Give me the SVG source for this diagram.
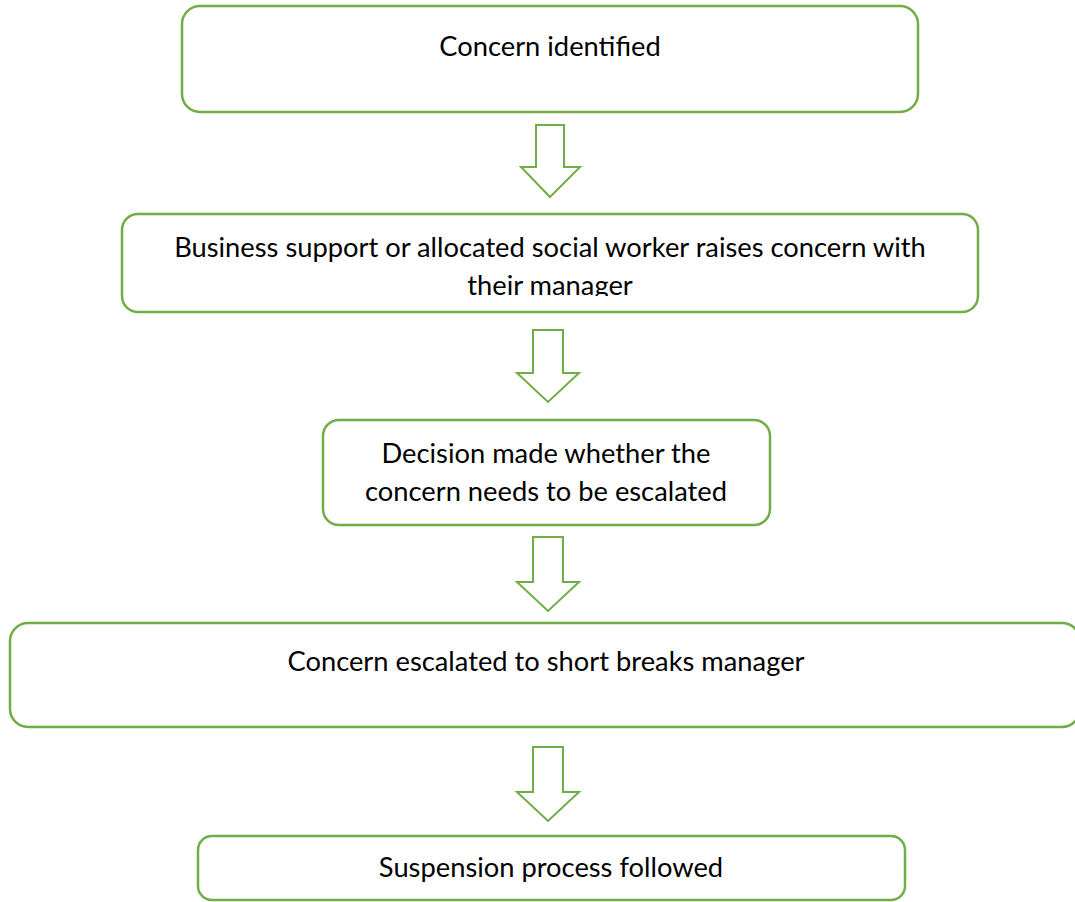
<svg xmlns="http://www.w3.org/2000/svg" width="1075" height="902" viewBox="0 0 1075 902">
<style>
.box{fill:#fff;stroke:#70AD47;stroke-width:2.5}
.arr{fill:#fff;stroke:#70AD47;stroke-width:2}
.t{font-family:"Lato","Open Sans","Liberation Sans",sans-serif;font-size:27.3px;fill:#000;text-anchor:middle}
</style>
<defs>
<clipPath id="c2"><rect x="122" y="213" width="856" height="83"/></clipPath>
</defs>
<rect width="1075" height="902" fill="#fff"/>
<g id="connectors">
<polygon class="arr" points="536,125 564,125 564,167 580,167 550,197 521,167 536,167"/>
<polygon class="arr" points="533,330 563,330 563,373 579,373 548,402 517,373 533,373"/>
<polygon class="arr" points="533,537 563,537 563,582 579,582 548,611 517,582 533,582"/>
<polygon class="arr" points="533,747 563,747 563,792 579,792 548,821 517,792 533,792"/>
</g>
<g id="n1"><rect class="box" x="182" y="6" width="736" height="106" rx="18"/><text class="t" x="550" y="56">Concern identified</text></g>
<g id="n2"><rect class="box" x="122" y="214" width="856" height="98" rx="16"/><g clip-path="url(#c2)"><text class="t" x="550" y="257">Business support or allocated social worker raises concern with</text><text class="t" x="550" y="295">their manager</text></g></g>
<g id="n3"><rect class="box" x="323" y="420" width="447" height="105" rx="16"/><text class="t" x="546" y="463">Decision made whether the</text><text class="t" x="546" y="501">concern needs to be escalated</text></g>
<g id="n4"><rect class="box" x="10" y="623" width="1070" height="104" rx="18"/><text class="t" x="546" y="671">Concern escalated to short breaks manager</text></g>
<g id="n5"><rect class="box" x="198" y="836" width="707" height="64" rx="14"/><text class="t" x="551" y="877">Suspension process followed</text></g>
</svg>
